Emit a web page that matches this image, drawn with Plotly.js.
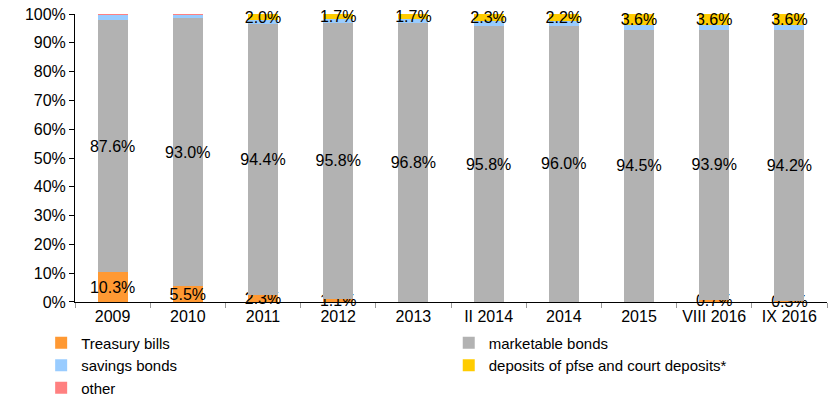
<!DOCTYPE html>
<html><head><meta charset="utf-8">
<script src="https://cdn.plot.ly/plotly-3.0.1.min.js"></script>
<style>html,body{margin:0;padding:0;background:#fff}#c{width:840px;height:407px}</style>
</head><body><div id="c"></div>
<script>
const categories = ["2009","2010","2011","2012","2013","II 2014","2014","2015","VIII 2016","IX 2016"];
const treasuryBills = [10.3, 5.5, 2.3, 1.1, 0, 0, 0, 0, 0.7, 0.3];
const marketableBonds = [87.6, 93.0, 94.4, 95.8, 96.8, 95.8, 96.0, 94.5, 93.9, 94.2];
const savingsBonds = [1.9, 1.3, 1.2, 1.3, 1.4, 1.8, 1.7, 1.8, 1.7, 1.8];
const deposits = [0, 0, 2.0, 1.7, 1.7, 2.3, 2.2, 3.6, 3.6, 3.6];
const other = [0.2, 0.2, 0.1, 0.1, 0.1, 0.1, 0.1, 0.1, 0.1, 0.1];

const fmt = v => v > 0 ? v.toFixed(1) + '%' : '';
const font = {family: 'Liberation Sans, Arial, sans-serif', size: 16, color: '#000'};

function bar(name, vals, color, labels, legend) {
  return {
    type: 'bar', name: name, x: categories, y: vals,
    marker: {color: color},
    text: labels ? vals.map(fmt) : null,
    textposition: labels ? 'inside' : 'none',
    insidetextanchor: 'middle',
    textangle: 0,
    textfont: font,
    insidetextfont: font,
    cliponaxis: false,
    hoverinfo: 'none',
    legend: legend
  };
}

const data = [
  bar('Treasury bills', treasuryBills, '#FF9933', true, 'legend'),
  bar('marketable bonds', marketableBonds, '#B2B2B2', true, 'legend2'),
  bar('savings bonds', savingsBonds, '#99CCFF', false, 'legend'),
  bar('deposits of pfse and court deposits*', deposits, '#FFCC00', true, 'legend2'),
  bar('other', other, '#FF8080', false, 'legend')
];

const legendFont = {family: 'Liberation Sans, Arial, sans-serif', size: 15, color: '#000'};
const layout = {
  width: 840, height: 407,
  margin: {l: 75, r: 13, t: 14, b: 0},
  barmode: 'stack', bargap: 0.6,
  paper_bgcolor: '#fff', plot_bgcolor: '#fff',
  font: font,
  uniformtext: {mode: 'show', minsize: 16},
  showlegend: true,
  legend: {
    orientation: 'v', x: -0.045, xanchor: 'left', y: 0.205, yanchor: 'top',
    font: legendFont, traceorder: 'normal', itemwidth: 30, tracegroupgap: 0,
    bgcolor: 'rgba(0,0,0,0)'
  },
  legend2: {
    orientation: 'v', x: 0.497, xanchor: 'left', y: 0.205, yanchor: 'top',
    font: legendFont, traceorder: 'normal', itemwidth: 30, tracegroupgap: 0,
    bgcolor: 'rgba(0,0,0,0)'
  },
  xaxis: {
    type: 'category', showline: true, linecolor: '#000', linewidth: 1,
    ticks: 'outside', tickson: 'boundaries', ticklen: 5, tickcolor: '#999',
    tickfont: font, fixedrange: true, showgrid: false, automargin: false,
    anchor: 'y'
  },
  yaxis: {
    domain: [0.2672, 1],
    range: [0, 100], dtick: 10, ticksuffix: '%', showline: true, linecolor: '#000',
    linewidth: 1, ticks: 'outside', ticklen: 5, tickcolor: '#000',
    tickfont: font, showgrid: false, zeroline: false, fixedrange: true
  }
};

Plotly.newPlot('c', data, layout, {displayModeBar: false, staticPlot: true});
</script>
</body></html>
